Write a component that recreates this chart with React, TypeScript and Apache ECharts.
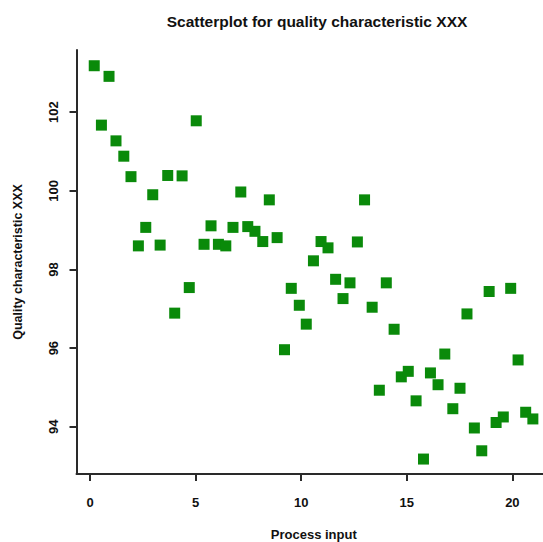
import React, { useEffect, useRef } from "react";
import * as echarts from "echarts";

const titleText = "Scatterplot for quality characteristic XXX";
const xAxisTitle = "Process input";
const yAxisTitle = "Quality characteristic XXX";

const xTicks = [0, 5, 10, 15, 20];
const yTicks = [94, 96, 98, 100, 102];

const processInput = [
  0.2, 0.54, 0.9, 1.23, 1.6, 1.94, 2.29, 2.64, 2.97, 3.32,
  3.68, 4.01, 4.36, 4.7, 5.03, 5.4, 5.73, 6.08, 6.43, 6.77,
  7.14, 7.47, 7.81, 8.18, 8.49, 8.86, 9.21, 9.53, 9.91, 10.24,
  10.58, 10.94, 11.27, 11.63, 11.98, 12.31, 12.66, 13.0, 13.36, 13.7,
  14.03, 14.4, 14.74, 15.07, 15.44, 15.79, 16.12, 16.48, 16.8, 17.18,
  17.52, 17.85, 18.2, 18.55, 18.9, 19.23, 19.57, 19.92, 20.27, 20.63,
  20.97,
];

const quality = [
  103.18, 101.67, 102.91, 101.27, 100.88, 100.36, 98.6, 99.07, 99.9, 98.62,
  100.39, 96.89, 100.38, 97.54, 101.78, 98.64, 99.11, 98.64, 98.6, 99.07,
  99.97, 99.09, 98.97, 98.71, 99.77, 98.81, 95.96, 97.52, 97.09, 96.61,
  98.22, 98.71, 98.55, 97.75, 97.26, 97.66, 98.7, 99.77, 97.04, 94.93,
  97.66, 96.48, 95.27, 95.41, 94.66, 93.18, 95.37, 95.07, 95.85, 94.46,
  94.98, 96.87, 93.97, 93.39, 97.44, 94.11, 94.25, 97.52, 95.7, 94.37,
  94.2,
];

const FONT = "'Liberation Sans', Arial, Helvetica, sans-serif";
const INK = "#111111";

export default function App() {
  const ref = useRef<HTMLDivElement>(null);

  useEffect(() => {
    if (!ref.current) return;
    const chart = echarts.init(ref.current, undefined, { renderer: "svg" });
    const data = processInput.map((x, i) => [x, quality[i]]);
    chart.setOption({
      animation: false,
      backgroundColor: "#ffffff",
      title: {
        text: titleText,
        left: 312,
        top: 8,
        textAlign: "center",
        textStyle: {
          fontFamily: FONT,
          fontWeight: "bold",
          fontSize: 15.5,
          color: INK,
        },
      },
      grid: {
        left: 76.5,
        right: 0,
        top: 50,
        bottom: 68,
        containLabel: false,
        outerBoundsMode: "none",
      },
      xAxis: {
        type: "value",
        min: -0.64,
        max: 21.45,
        name: xAxisTitle,
        nameLocation: "middle",
        nameGap: 54,
        nameTextStyle: { fontFamily: FONT, fontWeight: "bold", fontSize: 13, color: INK, padding: [0, 0, 0, 8] },
        splitLine: { show: false },
        axisLine: { show: true, onZero: false, lineStyle: { color: "#2a2a2a", width: 2 } },
        axisTick: { show: true, length: 7, lineStyle: { color: "#2a2a2a", width: 2 }, customValues: xTicks },
        axisLabel: {
          customValues: xTicks,
          margin: 22,
          fontFamily: FONT,
          fontWeight: "bold",
          fontSize: 13,
          color: INK,
        },
      },
      yAxis: {
        type: "value",
        min: 92.8,
        max: 103.58,
        name: yAxisTitle,
        nameLocation: "middle",
        nameGap: 52,
        nameRotate: 90,
        nameTextStyle: { fontFamily: FONT, fontWeight: "bold", fontSize: 12.5, color: INK },
        splitLine: { show: false },
        axisLine: { show: true, onZero: false, lineStyle: { color: "#2a2a2a", width: 2 } },
        axisTick: { show: true, length: 7, lineStyle: { color: "#2a2a2a", width: 2 }, customValues: yTicks },
        axisLabel: {
          customValues: yTicks,
          rotate: 90,
          margin: 17,
          fontFamily: FONT,
          fontWeight: "bold",
          fontSize: 13,
          color: INK,
        },
      },
      series: [
        {
          type: "scatter",
          data,
          symbol: "rect",
          symbolSize: 11,
          itemStyle: { color: "#0a8a0a", opacity: 1 },
        },
      ],
    });
    return () => chart.dispose();
  }, []);

  return (
    <div
      ref={ref}
      style={{ position: "absolute", left: 0, top: 0, width: 543, height: 542 }}
    />
  );
}
